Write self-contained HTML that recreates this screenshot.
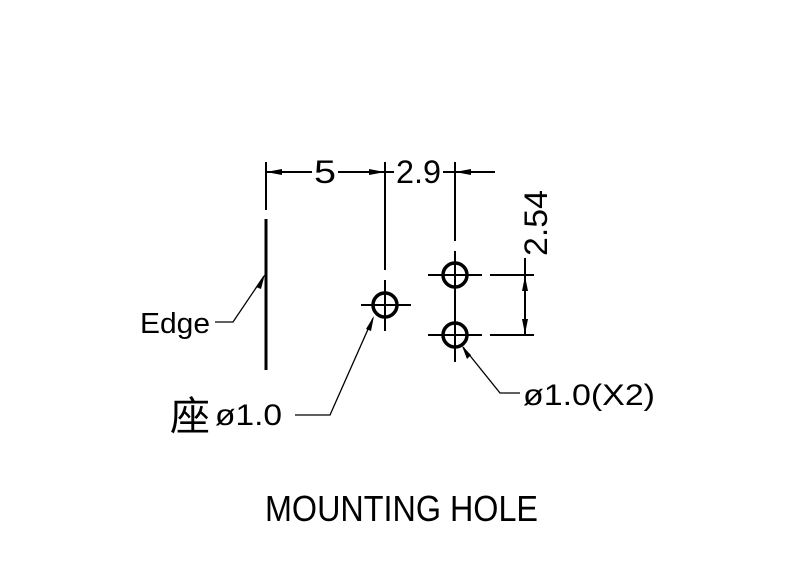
<!DOCTYPE html>
<html><head><meta charset="utf-8"><style>
html,body{margin:0;padding:0;background:#fff;}
svg{display:block;}
text{font-family:"Liberation Sans","Noto Sans CJK SC",sans-serif;fill:#000;}
</style></head><body>
<svg width="800" height="576" viewBox="0 0 800 576" xmlns="http://www.w3.org/2000/svg">
<g stroke="#000" fill="none" stroke-width="2">
<line x1="266" y1="219" x2="266" y2="370" stroke-width="3"/>
<line x1="266" y1="162" x2="266" y2="210"/>
<line x1="266" y1="172" x2="312" y2="172"/>
<line x1="338" y1="172" x2="385" y2="172"/>
<line x1="385" y1="162" x2="385" y2="270"/>
<line x1="385" y1="172" x2="394" y2="172"/>
<line x1="443" y1="172" x2="495" y2="172"/>
<line x1="455" y1="162" x2="455" y2="241"/>
<circle cx="385" cy="305" r="12" stroke-width="3.5"/>
<line x1="361" y1="305" x2="411" y2="305"/>
<line x1="385" y1="280" x2="385" y2="331"/>
<circle cx="455" cy="275" r="12" stroke-width="3.5"/>
<circle cx="455" cy="335" r="12" stroke-width="3.5"/>
<line x1="428" y1="275" x2="482" y2="275"/>
<line x1="428" y1="335" x2="482" y2="335"/>
<line x1="455" y1="251" x2="455" y2="362"/>
<line x1="490" y1="275" x2="534" y2="275"/>
<line x1="490" y1="335" x2="534" y2="335"/>
<line x1="525" y1="275" x2="525" y2="335"/>
<line x1="525" y1="258" x2="525" y2="275"/>
<polyline points="264,276 233,322 215,322" stroke-width="1.3"/>
<polyline points="373,318 330,415 295,415" stroke-width="1.3"/>
<polyline points="463,347 500,393 520,393" stroke-width="1.3"/>
</g>
<g fill="#000">
<polygon points="266,172 282,169 282,175"/>
<polygon points="385,172 369,169 369,175"/>
<polygon points="455,172 471,169 471,175"/>
<polygon points="525,276 522,291 528,291"/>
<polygon points="525,334 522,319 528,319"/>
<polygon points="265,274 256,287 261,289"/>
<polygon points="374,316 366,329 371,331"/>
<polygon points="462,346 467,359 471,355"/>
</g>
<text x="314" y="183" font-size="32" textLength="22" lengthAdjust="spacingAndGlyphs">5</text>
<text x="396" y="183" font-size="32" textLength="45" lengthAdjust="spacingAndGlyphs">2.9</text>
<text transform="translate(547,256) rotate(-90)" font-size="32" textLength="66" lengthAdjust="spacingAndGlyphs">2.54</text>
<text x="140" y="333" font-size="29" textLength="70" lengthAdjust="spacingAndGlyphs">Edge</text>
<text x="170" y="430" font-size="40" font-family="'Noto Serif CJK SC',serif">座</text>
<text x="215" y="425" font-size="30" textLength="67" lengthAdjust="spacingAndGlyphs">ø1.0</text>
<text x="523" y="405" font-size="30" textLength="132" lengthAdjust="spacingAndGlyphs">ø1.0(X2)</text>
<text x="265" y="521" font-size="36" textLength="273" lengthAdjust="spacingAndGlyphs">MOUNTING  HOLE</text>
</svg>
</body></html>
